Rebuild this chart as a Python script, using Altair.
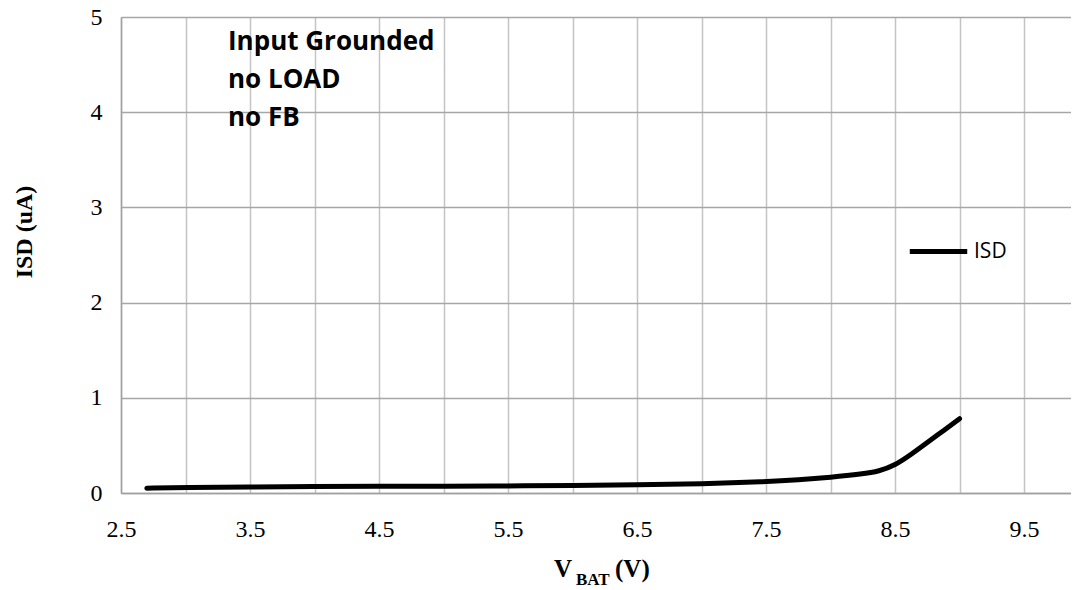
import altair as alt
import pandas as pd

# Data
vbat = [2.7, 3.0, 3.5, 4.0, 4.5, 5.0, 5.5, 6.0, 6.5, 7.0, 7.5, 7.75, 8.0, 8.25, 8.375, 8.5, 8.625, 8.75, 8.875, 9.0]
isd = [0.05, 0.058, 0.063, 0.068, 0.07, 0.071, 0.075, 0.078, 0.085, 0.095, 0.118, 0.138, 0.165, 0.2, 0.228, 0.29, 0.405, 0.53, 0.655, 0.78]
series_name = "ISD"
x_grid_values = [2.5, 3.0, 3.5, 4.0, 4.5, 5.0, 5.5, 6.0, 6.5, 7.0, 7.5, 8.0, 8.5, 9.0, 9.5]
y_tick_values = [0, 1, 2, 3, 4, 5]
annotation_lines = ["Input Grounded", "no LOAD", "no FB"]

df = pd.DataFrame({"VBAT": vbat, "ISD": isd, "series": [series_name] * len(vbat)})
one = pd.DataFrame({"a": [0]})

SERIF = "Liberation Serif"
SANS = "Open Sans"

line = alt.Chart(df).mark_line(strokeWidth=5, interpolate="basis", strokeCap="round").encode(
    x=alt.X("VBAT:Q",
            scale=alt.Scale(domain=[2.5, 9.864], nice=False, zero=False),
            axis=alt.Axis(values=x_grid_values, title=None, format=".1f",
                          labelExpr="(round(datum.value*2) % 2 == 1) ? datum.label : ''",
                          labelFlush=False, labelOverlap=False,
                          grid=True, gridColor="#c4c4c4", gridWidth=1.5,
                          ticks=False, domain=True, domainColor="#a0a0a0", domainWidth=1.5,
                          labelFont=SERIF, labelFontSize=24, labelColor="black",
                          labelPadding=24)),
    y=alt.Y("ISD:Q",
            scale=alt.Scale(domain=[0, 5], nice=False),
            axis=alt.Axis(values=y_tick_values, title=None, labelFlush=False,
                          grid=True, gridColor="#a6a6a6", gridWidth=1.5,
                          ticks=False, domain=True, domainColor="#a0a0a0", domainWidth=1.5,
                          labelFont=SERIF, labelFontSize=24, labelColor="black",
                          labelPadding=19)),
    color=alt.Color("series:N", scale=alt.Scale(range=["black"]),
                    legend=alt.Legend(title=None, orient="none", legendX=786, legendY=203,
                                      symbolType="stroke", symbolSize=3300, symbolStrokeWidth=5,
                                      labelFont=SANS, labelFontSize=21, labelColor="black",
                                      labelOffset=4, padding=0)),
)

annot = alt.Chart(one).mark_text(
    text=annotation_lines, font=SANS, fontSize=26, fontWeight="bold",
    align="left", baseline="alphabetic", lineHeight=38, color="black"
).encode(x=alt.value(107), y=alt.value(33))

ytitle = alt.Chart(one).mark_text(
    text="ISD (uA)", font=SERIF, fontSize=24, fontWeight="bold", angle=270,
    align="center", baseline="middle", color="black"
).encode(x=alt.value(-96), y=alt.value(215))

xt_v = alt.Chart(one).mark_text(
    text="V", font=SERIF, fontSize=25, fontWeight="bold", align="left",
    baseline="alphabetic", color="black"
).encode(x=alt.value(433), y=alt.value(560))
xt_bat = alt.Chart(one).mark_text(
    text="BAT", font=SERIF, fontSize=17, fontWeight="bold", align="left",
    baseline="alphabetic", color="black"
).encode(x=alt.value(455), y=alt.value(568))
xt_unit = alt.Chart(one).mark_text(
    text="(V)", font=SERIF, fontSize=25, fontWeight="bold", align="left",
    baseline="alphabetic", color="black"
).encode(x=alt.value(494), y=alt.value(560))

chart = alt.layer(line, annot, ytitle, xt_v, xt_bat, xt_unit).properties(
    width=950, height=476,
    autosize=alt.AutoSizeParams(type="none"),
    padding={"left": 113, "top": 9, "right": 0, "bottom": 96},
    background="white",
).configure_view(stroke=None)

chart.save("out.html", embed_options={"renderer": "svg", "actions": False})
